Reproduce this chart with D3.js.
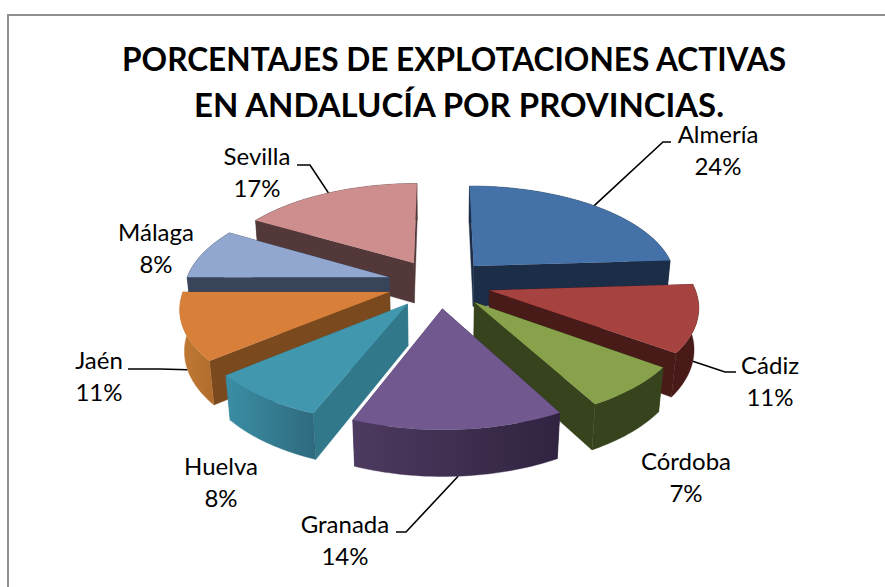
<!DOCTYPE html>
<html><head><meta charset="utf-8">
<script src="https://cdn.jsdelivr.net/npm/d3@7"></script>
<style>html,body{margin:0;padding:0;background:#fff}svg{display:block}text{font-family:Lato,"Open Sans",sans-serif;fill:#000}</style>
</head><body><svg id="c" width="885" height="587"></svg>
<script>
const titleLines = ["PORCENTAJES DE EXPLOTACIONES ACTIVAS", "EN ANDALUCÍA POR PROVINCIAS."];
const titleWidths = [664,530];
const categories = ["Almería","Cádiz","Córdoba","Granada","Huelva","Jaén","Málaga","Sevilla"];
const values = [24,11,7,14,8,11,8.4,16.6];
const topColors = ["#4472a8","#a64340","#87a24b","#71588f","#4097ae","#d8803a","#92a7cf","#ce8e8e"];
const cutColors = ["#1b2d47","#481a18","#37431d","#3a2b4f","#30788a","#7a4a1e","#37445a","#53383a"];
const wallLeft  = ["#1b2d47","#481a18","#37431d","#4d3a60","#3a8ea5","#c27a35","#37445a","#53383a"];
const wallRight = ["#1b2d47","#481a18","#37431d","#302340","#2f6a7d","#b06c2c","#37445a","#53383a"];
const labelCenters = [718,770,686,345,221,99,156,257];
const labelBaselines = [143,374,470,533,475,369,241,165];
// leader elbows: [elbow x, elbow y, end-of-tick x]; null when the label has no leader
const leaderElbows = [[663,142,671],[725,372,736],null,[406,532,396],null,[160,369,128],null,[310,165,297]];

const cx=439, cy=283.5, A=204, At=96, k=0.141, explode=0.255, H=41, shrink=0.018;
const svg=d3.select("#c"), defs=svg.append("defs");

// frame
svg.append("path").attr("d","M8,587V15H885").attr("fill","none").attr("stroke","#8f8f8f").attr("stroke-width",2);

// title
titleLines.forEach((t,i)=>svg.append("text").attr("x",i?459:454).attr("y",i?117:71)
  .attr("text-anchor","middle").attr("font-size",32).attr("font-weight",700)
  .attr("textLength",titleWidths[i]).attr("lengthAdjust","spacingAndGlyphs").text(t));

const arcs=d3.pie().sort(null).value(d=>d).startAngle(0).endAngle(2*Math.PI)(values);

function project(X,Z,down){
  const s=1/(1+k*Z+(down?shrink:0));
  return [cx+A*X*s, cy-At*Z*s+(down?H/(1+k*Z):0)];
}
const line=d3.line();
const slices=arcs.map((a,i)=>{
  const mid=(a.startAngle+a.endAngle)/2;
  const ox=explode*Math.sin(mid), oz=explode*Math.cos(mid);
  const rim=d3.range(0,41).map(j=>{
    const t=a.startAngle+(a.endAngle-a.startAngle)*j/40;
    return [ox+Math.sin(t),oz+Math.cos(t)];
  });
  return {i,mid,ox,oz,rim};
});

// leaders sit under the slices
slices.forEach(s=>{
  const e=leaderElbows[s.i]; if(!e) return;
  const X=s.ox+Math.sin(s.mid), Z=s.oz+Math.cos(s.mid);
  const facingFront=Math.cos(s.mid)<0;
  const p=project(X,Z,facingFront);
  svg.append("path").attr("d",line([p,[e[0],e[1]],[e[2],e[1]]]))
    .attr("fill","none").attr("stroke","#000").attr("stroke-width",1.6);
});

// painter's order, far slices first
const order=slices.slice().sort((a,b)=>b.oz-a.oz);
order.forEach(s=>{
  const i=s.i, g=svg.append("g");
  const top=s.rim.map(p=>project(p[0],p[1],false));
  const bot=s.rim.map(p=>project(p[0],p[1],true));
  const apexT=project(s.ox,s.oz,false), apexB=project(s.ox,s.oz,true);
  const gid="wall"+i;
  const xs=top.concat(bot).map(p=>p[0]);
  const grad=defs.append("linearGradient").attr("id",gid).attr("gradientUnits","userSpaceOnUse")
    .attr("x1",d3.min(xs)).attr("x2",d3.max(xs)).attr("y1",0).attr("y2",0);
  grad.append("stop").attr("offset",0).attr("stop-color",wallLeft[i]);
  grad.append("stop").attr("offset",1).attr("stop-color",wallRight[i]);
  const walls=[
    {z:(s.oz+s.rim[0][1])/2, pts:[apexT,top[0],bot[0],apexB], fill:cutColors[i]},
    {z:(s.oz+s.rim[40][1])/2, pts:[apexT,top[40],bot[40],apexB], fill:cutColors[i]},
    {z:d3.mean(s.rim,p=>p[1]), pts:top.concat(bot.slice().reverse()), fill:`url(#${gid})`}
  ].sort((a,b)=>b.z-a.z);
  walls.forEach(w=>g.append("path").attr("d",line(w.pts)+"Z").attr("fill",w.fill).attr("stroke",w.fill).attr("stroke-width",0.4));
  g.append("path").attr("d",line([apexT].concat(top))+"Z").attr("fill",topColors[i]);
});

// labels
categories.forEach((c,i)=>{
  const t=svg.append("g").attr("text-anchor","middle").attr("font-size",24);
  t.append("text").attr("x",labelCenters[i]).attr("y",labelBaselines[i]).text(c);
  t.append("text").attr("x",labelCenters[i]).attr("y",labelBaselines[i]+32).text(Math.round(values[i])+"%");
});
</script></body></html>
